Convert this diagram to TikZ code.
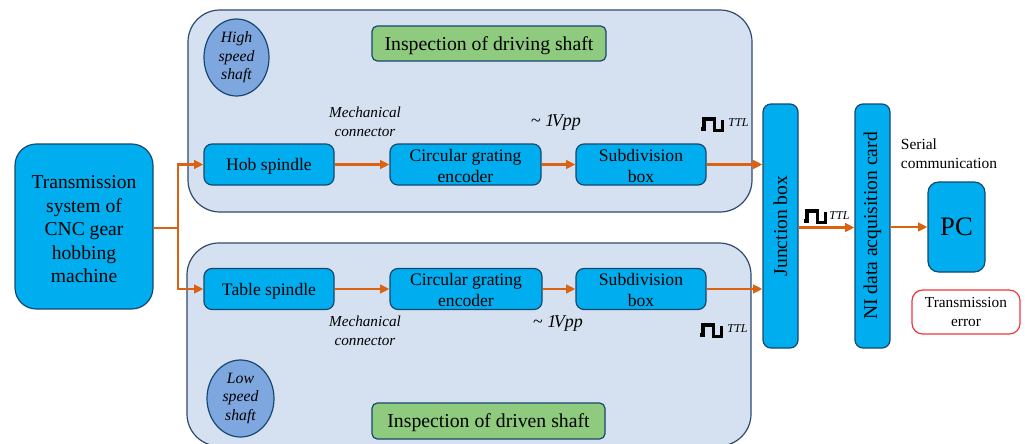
\documentclass[tikz,border=0pt]{standalone}
\usepackage{fontspec}
\setmainfont{Liberation Serif}
\usetikzlibrary{shapes.geometric,arrows.meta}
\definecolor{panelfill}{HTML}{D5E1F1}
\definecolor{panelline}{HTML}{2F4A6B}
\definecolor{bluefill}{HTML}{00AEEF}
\definecolor{blueline}{HTML}{17476F}
\definecolor{greenfill}{HTML}{8FCB7E}
\definecolor{ellfill}{HTML}{7FA7DF}
\definecolor{orangeline}{HTML}{DB6210}
\definecolor{redline}{HTML}{F0383C}
\tikzset{
  x=0.75pt,y=-0.75pt,
  panel/.style={draw=panelline,fill=panelfill,line width=0.9pt,rounded corners=24pt},
  bluebox/.style={draw=blueline,fill=bluefill,line width=0.9pt,rounded corners=6pt,inner sep=0pt,align=center,font=\fontsize{13.2}{15.7}\selectfont},
  bigbox/.style={bluebox,rounded corners=16pt,font=\fontsize{14.7}{17.6}\selectfont},
  tallbox/.style={bluebox,rotate=90,font=\fontsize{14.7}{16}\selectfont},
  pcbox/.style={bluebox,rounded corners=8pt,font=\fontsize{20}{22}\selectfont},
  errbox/.style={draw=redline,fill=white,line width=0.9pt,rounded corners=8pt,inner sep=0pt,align=center,font=\fontsize{11.5}{14}\selectfont},
  greenbox/.style={draw=blueline,fill=greenfill,line width=0.9pt,rounded corners=4pt,inner sep=0pt,font=\fontsize{14.8}{16}\selectfont},
  shaftell/.style={ellipse,draw=blueline,fill=ellfill,line width=0.9pt,inner sep=0pt,align=center,font=\fontsize{11.8}{13.9}\selectfont\itshape},
  note/.style={inner sep=0pt,align=center,font=\fontsize{11.4}{14.2}\selectfont\itshape},
  plain/.style={inner sep=0pt,align=left,font=\fontsize{11.6}{14.2}\selectfont},
  vpp/.style={inner sep=0pt,font=\fontsize{13.5}{16}\selectfont\itshape},
  ttl/.style={inner sep=0pt,font=\fontsize{9}{10}\selectfont\itshape},
  conn/.style={draw=orangeline,line width=2.2pt,-{Triangle[length=7pt,width=6.5pt]}},
  pulse/.style={draw=black,line width=2.4pt,line join=miter},
}
\newcommand{\pulseat}[2]{\draw[pulse] (#1,#2+10) -- ++(3,0) -- ++(0,-10) -- ++(10.5,0) -- ++(0,11.5) -- ++(8,0) -- ++(0,-10.5);}
\newcommand{\bbox}[6]{\node[bluebox,minimum width=#5*0.75pt,minimum height=#6*0.75pt] (#1) at (#3,#4) {#2};}
\newcommand{\dn}[1]{\rule{0pt}{#1}}
\begin{document}
\begin{tikzpicture}
\useasboundingbox (0,0) rectangle (1025,443);
\begin{scope}
\clip (0,0) rectangle (1025,443);
\draw[panel] (188,10) rectangle (752,212);
\draw[panel] (187,243) rectangle (751,446);
\end{scope}
\node[bigbox,minimum width=103.5pt,minimum height=123.75pt] (trans) at (84,226.5) {\dn{14pt}Transmission\\system of\\CNC gear\\hobbing\\machine};
\bbox{hob}{\dn{12pt}Hob spindle}{269}{164.5}{130}{41}
\bbox{enc1}{\dn{11pt}Circular grating\\encoder}{465.5}{164.5}{151}{41}
\bbox{sub1}{\dn{11pt}Subdivision\\box}{641}{164.5}{130}{41}
\bbox{tab}{\dn{12pt}Table spindle}{269}{289}{130}{41}
\bbox{enc2}{\dn{11pt}Circular grating\\encoder}{466}{289}{152}{41}
\bbox{sub2}{\dn{11pt}Subdivision\\box}{641}{289}{130}{41}
\node[tallbox,minimum width=183pt,minimum height=26.25pt] (junction) at (780.5,226) {Junction box};
\node[tallbox,minimum width=183pt,minimum height=26.25pt] (ni) at (872.5,226) {NI data acquisition card};
\node[pcbox,minimum width=42.75pt,minimum height=67.5pt] (pc) at (956.5,227) {PC};
\node[errbox,minimum width=81pt,minimum height=33pt] (err) at (966,312) {Transmission\\error};
\node[greenbox,minimum width=175.5pt,minimum height=26.25pt] (insp1) at (489,43.5) {\dn{13pt}Inspection of driving shaft};
\node[greenbox,minimum width=174.75pt,minimum height=27pt] (insp2) at (488.5,421) {\dn{13pt}Inspection of driven shaft};
\node[shaftell,minimum width=48.75pt,minimum height=57.75pt] (high) at (236.5,57.5) {High\\speed\\shaft};
\node[shaftell,minimum width=50.25pt,minimum height=57.75pt] (low) at (240.5,398.5) {Low\\speed\\shaft};
\node[note] (mech1) at (365,122) {Mechanical\\connector};
\node[note] (mech2) at (365,331) {Mechanical\\connector};
\node[vpp] (vpp1) at (556,122) {\textup{\char`\~{} }1\kern-2pt Vpp};
\node[vpp] (vpp2) at (558,323) {\textup{\char`\~{} }1\kern-2pt Vpp};
\pulseat{701}{119}
\node[ttl] (ttl1) at (738.5,123) {TTL};
\pulseat{700}{325}
\node[ttl] (ttl2) at (737.5,329) {TTL};
\pulseat{804}{211}
\node[ttl] (ttl3) at (839.5,216) {TTL};
\node[plain] (serial) at (949,153.5) {Serial\\communication};
\coordinate (split) at (178,228);
\draw[conn] (trans.east |- split) -- (split) |- (hob.west);
\draw[conn] (split) |- (tab.west);
\draw[conn] (hob) -- (enc1);
\draw[conn] (enc1) -- (sub1);
\draw[conn] (tab) -- (enc2);
\draw[conn] (enc2) -- (sub2);
\draw[conn] (sub1.east) -- (sub1.east -| junction.north);
\draw[conn] (sub2.east) -- (sub2.east -| junction.north);
\draw[conn] (junction.south |- 0,227.5) -- (ni.north |- 0,227.5);
\draw[conn] (ni.south |- pc.west) -- (pc.west);
\end{tikzpicture}
\end{document}
